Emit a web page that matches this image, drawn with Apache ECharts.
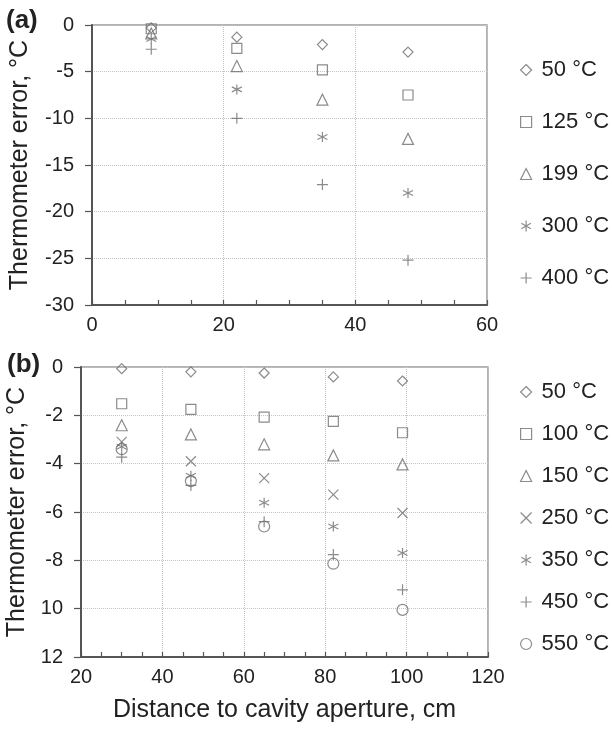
<!DOCTYPE html>
<html>
<head>
<meta charset="utf-8">
<script src="https://cdn.jsdelivr.net/npm/echarts@6/dist/echarts.min.js"></script>
<style>
html,body{margin:0;padding:0;background:#fff;}
#chart{width:612px;height:733px;}
</style>
</head>
<body>
<div id="chart"></div>
<script>
// ---------- Data ----------
const xA = [9, 22, 35, 48];
const namesA = ['50 °C', '125 °C', '199 °C', '300 °C', '400 °C'];
const a50  = [-0.3, -1.3, -2.1, -2.9];
const a125 = [-0.4, -2.5, -4.8, -7.5];
const a199 = [-0.9, -4.4, -8.0, -12.2];
const a300 = [-1.5, -6.9, -12.0, -18.0];
const a400 = [-2.6, -10.0, -17.1, -25.2];

const xB = [30, 47, 65, 82, 99];
const namesB = ['50 °C', '100 °C', '150 °C', '250 °C', '350 °C', '450 °C', '550 °C'];
const b50  = [-0.07, -0.2, -0.25, -0.41, -0.58];
const b100 = [-1.52, -1.75, -2.07, -2.25, -2.72];
const b150 = [-2.41, -2.79, -3.2, -3.66, -4.03];
const b250 = [-3.1, -3.9, -4.6, -5.28, -6.04];
const b350 = [-3.3, -4.5, -5.62, -6.6, -7.7];
const b450 = [-3.73, -4.9, -6.4, -7.76, -9.22];
const b550 = [-3.4, -4.72, -6.6, -8.14, -10.05];

const yTicksA = ['0', '-5', '-10', '-15', '-20', '-25', '-30'];
const yTicksB = ['0', '-2', '-4', '-6', '-8', '10', '12'];

// ---------- Styles ----------
const FONT = 'Liberation Sans, Arial, Helvetica, sans-serif';
const MARK = '#6e6e6e';
const AX = '#555';
const TXT = '#222';

const SYM = {
  diamond: 'diamond',
  rect: 'rect',
  triangle: 'triangle',
  circle: 'circle',
  plus: 'path://M5,0L5,10M0,5L10,5',
  cross: 'path://M0,0L10,10M10,0L0,10',
  star: 'path://M5,0L5,10M0.7,2.5L9.3,7.5M9.3,2.5L0.7,7.5'
};
const symA = [SYM.diamond, SYM.rect, SYM.triangle, SYM.star, SYM.plus];
const symB = [SYM.diamond, SYM.rect, SYM.triangle, SYM.cross, SYM.star, SYM.plus, SYM.circle];
const sizeA = [10, 10, 11, 10, 11];
const sizeB = [10, 10, 11, 10, 10, 11, 11];

function pairs(xs, ys) { return xs.map((x, i) => [x, ys[i]]); }

const seriesValsA = [a50, a125, a199, a300, a400];
const seriesValsB = [b50, b100, b150, b250, b350, b450, b550];

const series = [];
seriesValsA.forEach((vals, i) => {
  series.push({
    type: 'scatter', name: namesA[i], xAxisIndex: 0, yAxisIndex: 0,
    symbol: symA[i], symbolSize: sizeA[i],
    itemStyle: { color: 'rgba(0,0,0,0)', borderColor: MARK, borderWidth: 1.2 },
    emphasis: { disabled: true },
    data: pairs(xA, vals)
  });
});
seriesValsB.forEach((vals, i) => {
  series.push({
    type: 'scatter', name: namesB[i], xAxisIndex: 1, yAxisIndex: 1,
    symbol: symB[i], symbolSize: sizeB[i],
    itemStyle: { color: 'rgba(0,0,0,0)', borderColor: MARK, borderWidth: 1.2 },
    emphasis: { disabled: true },
    data: pairs(xB, vals)
  });
});

function xAxisCfg(grid, min, max, extra) {
  return Object.assign({
    type: 'value', gridIndex: grid, min: min, max: max, interval: 20,
    axisLine: { show: true, onZero: false, lineStyle: { color: AX, width: 2 } },
    axisTick: { show: true, inside: true, length: 5, lineStyle: { color: AX, width: 1.2 } },
    minorTick: { show: true, splitNumber: 4, length: 5, lineStyle: { color: AX, width: 1.2 } },
    axisLabel: { fontSize: 20, margin: 10, color: TXT, fontFamily: FONT },
    splitLine: { show: true, lineStyle: { type: 'dotted', color: '#c4c4c4', width: 1 } }
  }, extra || {});
}
function yAxisCfg(grid, min, interval, labels, gap) {
  return {
    type: 'value', gridIndex: grid, min: min, max: 0, interval: interval,
    name: 'Thermometer error, °C', nameLocation: 'middle', nameGap: gap,
    nameTextStyle: { fontSize: 25, color: TXT, fontFamily: FONT },
    axisLine: { show: true, onZero: false, lineStyle: { color: AX, width: 2 } },
    axisTick: { show: true, inside: false, length: 7, lineStyle: { color: AX, width: 1.2 } },
    axisLabel: {
      fontSize: 20, margin: 18, color: TXT, fontFamily: FONT,
      formatter: v => labels[Math.round(-v / interval)]
    },
    splitLine: { show: true, lineStyle: { type: 'dotted', color: '#c4c4c4', width: 1 } }
  };
}
function legendCfg(names, top, gap) {
  return {
    orient: 'vertical', left: 515, top: top, itemGap: gap,
    itemWidth: 11, itemHeight: 11,
    data: names,
    selectedMode: false,
    itemStyle: { color: 'rgba(0,0,0,0)', borderColor: MARK, borderWidth: 1.2 },
    textStyle: { fontSize: 22, lineHeight: 24, color: TXT, fontFamily: FONT, padding: [0, 0, 0, 5] }
  };
}

const option = {
  animation: false,
  backgroundColor: '#fff',
  textStyle: { fontFamily: FONT },
  grid: [
    { left: 92, top: 25, width: 395, height: 280, containLabel: false, outerBoundsMode: 'none', show: true, borderColor: '#999', borderWidth: 1.5, backgroundColor: 'rgba(0,0,0,0)' },
    { left: 81, top: 367, width: 407, height: 290, containLabel: false, outerBoundsMode: 'none', show: true, borderColor: '#999', borderWidth: 1.5, backgroundColor: 'rgba(0,0,0,0)' }
  ],
  xAxis: [
    xAxisCfg(0, 0, 60),
    xAxisCfg(1, 20, 120, {
      name: 'Distance to cavity aperture, cm', nameLocation: 'middle', nameGap: 41,
      nameTextStyle: { fontSize: 25, color: TXT, fontFamily: FONT }
    })
  ],
  yAxis: [
    yAxisCfg(0, -30, 5, yTicksA, 59),
    yAxisCfg(1, -12, 2, yTicksB, 48)
  ],
  legend: [
    legendCfg(namesA, 53, 28),
    legendCfg(namesB, 375, 18)
  ],
  graphic: [
    { type: 'text', left: 6, top: 8, style: { text: '(a)', fontSize: 26, fontWeight: 'bold', fill: TXT, fontFamily: FONT } },
    { type: 'text', left: 7, top: 352, style: { text: '(b)', fontSize: 26, fontWeight: 'bold', fill: TXT, fontFamily: FONT } }
  ],
  series: series
};

const chart = echarts.init(document.getElementById('chart'), null, { renderer: 'canvas' });
chart.setOption(option);
</script>
</body>
</html>
